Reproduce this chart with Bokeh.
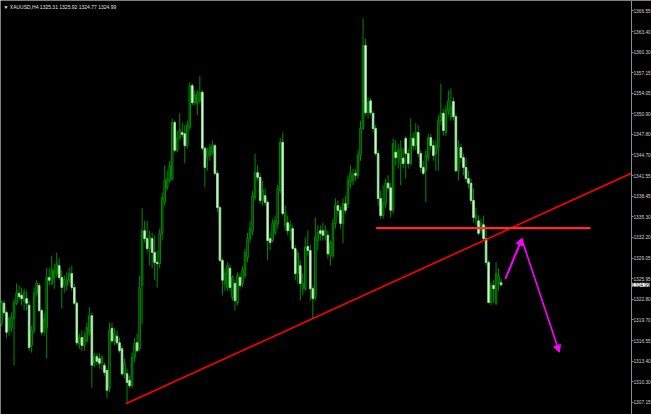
from bokeh.plotting import figure
from bokeh.models import (ColumnDataSource, FixedTicker, PrintfTickFormatter, Range1d,
                          Label, Arrow, NormalHead)
from bokeh.embed import file_html
from bokeh.resources import INLINE

# ---------------- data (XAUUSD, H4) ----------------
opens = [1319.1,1322.2,1320.8,1318.1,1318.5,1319.9,1322.2,1323.7,1323.4,1322.6,
         1322.9,1321.9,1315.8,1318.1,1323.7,1324.9,1321.1,1317.9,1318.5,1326.1,
         1325.2,1326.0,1326.7,1327.9,1326.1,1324.9,1324.9,1325.7,1326.7,1324.6,
         1322.2,1316.1,1317.0,1315.8,1316.5,1317.8,1320.3,1313.1,1314.1,1313.8,
         1313.1,1312.8,1312.0,1309.4,1318.4,1316.5,1317.2,1316.2,1315.3,1311.5,
         1311.5,1310.5,1309.7,1314.0,1316.2,1315.3,1324.9,1333.2,1332.0,1330.5,
         1332.0,1329.9,1328.4,1328.2,1332.8,1337.5,1339.7,1340.8,1341.1,1349.6,
         1345.4,1347.3,1348.1,1347.9,1346.1,1348.9,1355.2,1352.6,1352.5,1352.9,
         1354.2,1345.7,1344.3,1344.6,1345.1,1346.1,1341.9,1336.7,1328.7,1325.2,
         1324.6,1327.5,1323.1,1325.2,1322.3,1326.1,1325.2,1326.4,1329.1,1332.0,
         1333.2,1338.2,1342.0,1341.3,1337.8,1338.5,1337.5,1332.0,1331.7,1332.9,
         1334.3,1339.3,1346.6,1334.0,1334.4,1333.2,1333.5,1330.5,1326.7,1327.9,
         1324.4,1324.4,1330.8,1330.2,1324.4,1323.1,1331.7,1333.2,1333.2,1332.5,
         1332.5,1329.4,1329.4,1334.3,1337.0,1336.3,1334.3,1337.3,1337.3,1340.5,
         1340.8,1341.9,1341.6,1344.6,1348.7,1361.3,1351.1,1352.9,1351.0,1348.7,
         1344.9,1338.1,1335.5,1337.3,1340.4,1339.7,1336.3,1345.1,1344.2,1343.4,
         1344.2,1347.2,1344.9,1343.4,1347.2,1346.1,1348.1,1344.9,1342.8,1342.3,
         1344.3,1347.3,1346.1,1344.9,1345.8,1349.9,1351.0,1348.1,1351.4,1350.4,
         1352.8,1350.5,1342.3,1345.8,1344.3,1342.8,1341.1,1340.4,1337.8,1335.0,
         1334.7,1333.2,1334.1,1332.0,1328.4,1322.3,1324.9,1322.2,1325.2,1325.31]
highs = [1322.6,1322.6,1321.1,1320.3,1320.8,1322.9,1325.2,1324.9,1324.6,1324.4,
         1324.1,1322.6,1318.8,1324.6,1325.7,1325.3,1321.4,1320.8,1327.6,1327.5,
         1329.4,1328.2,1329.9,1329.0,1327.2,1326.4,1326.9,1327.6,1327.9,1325.2,
         1322.6,1317.6,1318.1,1317.8,1319.3,1321.6,1320.8,1314.7,1314.6,1314.6,
         1314.3,1313.2,1312.3,1319.3,1319.3,1318.4,1318.1,1317.0,1315.8,1313.8,
         1312.3,1311.2,1314.7,1316.9,1317.6,1326.4,1336.6,1334.7,1334.7,1333.2,
         1332.9,1332.5,1330.2,1333.5,1339.0,1343.1,1342.3,1343.8,1350.2,1349.9,
         1348.4,1351.0,1349.6,1349.2,1349.9,1355.7,1355.5,1354.5,1354.5,1356.7,
         1354.5,1346.0,1345.8,1346.4,1346.9,1346.4,1342.3,1337.0,1329.0,1327.5,
         1328.4,1328.1,1326.4,1325.7,1326.9,1326.7,1327.8,1330.5,1332.9,1334.7,
         1339.3,1344.9,1343.1,1342.0,1340.8,1339.6,1337.8,1332.9,1335.0,1335.5,
         1340.1,1347.3,1348.1,1337.0,1335.5,1334.7,1334.0,1331.0,1330.2,1328.7,
         1326.7,1332.2,1333.2,1331.0,1324.9,1335.2,1334.0,1334.0,1334.4,1334.0,
         1333.2,1331.7,1335.0,1338.1,1337.8,1337.0,1338.1,1338.5,1341.6,1343.1,
         1342.6,1342.6,1345.4,1349.9,1365.4,1362.3,1353.4,1353.4,1351.4,1349.2,
         1345.4,1339.3,1340.1,1341.1,1341.6,1340.4,1347.2,1346.9,1346.4,1346.9,
         1345.7,1347.6,1345.7,1350.2,1348.1,1349.5,1349.2,1345.4,1343.8,1345.4,
         1347.9,1347.9,1346.9,1346.9,1350.7,1355.5,1351.7,1352.2,1354.5,1354.8,
         1353.4,1351.0,1346.9,1346.4,1344.9,1344.2,1342.3,1341.1,1339.6,1336.7,
         1335.5,1335.0,1335.5,1334.0,1328.7,1325.4,1325.7,1328.4,1327.5,1325.92]
lows = [1318.8,1320.3,1316.9,1317.3,1317.8,1312.8,1321.9,1322.6,1321.9,1321.1,
        1321.1,1315.0,1314.7,1317.6,1323.2,1320.8,1317.3,1317.3,1313.8,1324.9,
        1324.9,1324.4,1326.1,1325.7,1321.4,1323.8,1324.1,1325.2,1324.1,1321.9,
        1315.8,1315.3,1315.0,1315.0,1316.2,1317.3,1309.4,1312.5,1312.8,1312.3,
        1312.0,1311.2,1307.8,1308.7,1316.1,1315.8,1315.8,1314.7,1311.2,1310.8,
        1307.0,1309.3,1309.3,1313.2,1314.7,1315.0,1319.1,1331.4,1329.9,1327.9,
        1327.5,1325.7,1324.6,1327.5,1331.7,1337.0,1339.3,1340.4,1340.8,1345.1,
        1345.1,1346.9,1347.3,1343.4,1345.7,1348.4,1352.2,1352.2,1350.7,1352.5,
        1345.4,1339.8,1342.3,1343.8,1344.6,1341.6,1336.0,1328.4,1323.4,1324.1,
        1324.1,1324.1,1322.6,1321.1,1321.9,1324.4,1324.6,1326.0,1328.4,1331.4,
        1332.5,1337.8,1340.8,1337.3,1337.0,1337.0,1328.7,1330.2,1331.4,1332.5,
        1333.5,1338.8,1335.5,1333.2,1332.5,1331.7,1330.2,1325.7,1325.2,1322.6,
        1323.4,1324.1,1329.4,1322.6,1319.9,1322.6,1330.2,1331.7,1331.7,1331.7,
        1329.0,1327.9,1329.0,1333.5,1335.5,1333.5,1331.3,1335.8,1336.6,1339.6,
        1340.1,1340.8,1341.1,1343.8,1348.4,1350.7,1350.2,1350.7,1348.1,1344.6,
        1337.0,1335.0,1335.0,1336.7,1339.3,1335.2,1335.8,1343.1,1342.6,1340.1,
        1342.6,1341.1,1342.6,1343.1,1345.4,1345.4,1344.3,1342.0,1341.6,1337.5,
        1343.8,1345.4,1343.8,1342.3,1342.3,1349.2,1347.6,1347.6,1350.7,1349.9,
        1349.9,1342.0,1340.8,1343.5,1341.6,1340.5,1339.6,1337.3,1334.4,1334.0,
        1332.5,1332.8,1331.7,1327.9,1322.2,1321.9,1322.3,1321.9,1324.1,1324.77]
closes = [1322.3,1320.8,1317.8,1319.9,1320.0,1322.3,1323.8,1323.2,1322.9,1323.8,
          1322.2,1315.5,1318.1,1323.7,1325.2,1321.1,1317.8,1319.9,1326.1,1325.7,
          1327.2,1327.2,1328.2,1326.1,1324.6,1325.8,1325.7,1326.7,1324.6,1322.2,
          1316.2,1317.0,1315.8,1317.0,1318.5,1320.3,1312.8,1314.1,1313.4,1313.1,
          1314.0,1311.7,1309.0,1318.1,1316.5,1317.6,1316.2,1315.0,1311.5,1313.1,
          1310.2,1309.7,1314.0,1316.1,1315.0,1324.6,1333.2,1332.0,1330.5,1332.2,
          1329.9,1328.4,1328.2,1332.8,1338.2,1340.8,1341.1,1343.1,1349.6,1345.4,
          1347.3,1348.4,1347.8,1346.1,1349.2,1355.2,1352.6,1353.7,1354.0,1354.2,
          1345.7,1342.8,1345.4,1345.8,1346.1,1341.9,1336.7,1328.7,1325.7,1326.7,
          1327.9,1324.6,1326.1,1322.6,1326.4,1324.9,1327.2,1329.9,1332.0,1333.5,
          1338.5,1342.0,1341.3,1337.8,1339.3,1337.5,1331.7,1331.4,1334.4,1334.7,
          1339.6,1346.6,1335.8,1336.0,1333.2,1334.1,1330.5,1326.7,1329.7,1325.2,
          1325.2,1330.7,1330.2,1324.4,1322.9,1332.2,1332.9,1332.8,1332.5,1333.2,
          1329.7,1331.3,1334.3,1337.0,1336.3,1334.3,1337.3,1336.3,1340.8,1341.9,
          1341.7,1341.6,1344.6,1348.7,1361.3,1351.1,1352.6,1351.1,1348.7,1344.9,
          1338.1,1335.5,1337.5,1340.4,1339.7,1336.3,1346.4,1344.3,1345.4,1345.7,
          1343.4,1344.9,1343.4,1347.2,1346.1,1348.1,1344.9,1342.8,1341.9,1344.6,
          1347.3,1346.1,1344.6,1346.1,1349.9,1351.0,1348.4,1351.4,1352.9,1351.9,
          1350.5,1342.3,1345.8,1344.3,1342.8,1341.1,1340.4,1337.8,1335.2,1335.5,
          1332.8,1334.3,1332.0,1328.4,1322.3,1324.9,1324.4,1326.7,1326.4,1324.99]

price_ticks = [1307.15, 1310.30, 1313.40, 1316.55, 1319.70, 1322.80, 1325.95,
               1329.05, 1332.20, 1335.30, 1338.45, 1341.55, 1344.70, 1347.80,
               1350.90, 1354.05, 1357.15, 1360.30, 1363.40, 1366.55]
last_price = 1324.99
last_text = "1324.99"
title_text = "\u25bc XAUUSD,H4  1325.31 1325.92 1324.77 1324.99"

# drawn objects (bar index, price)
trend_x = [49.5, 250.9]
trend_y = [1306.95, 1341.92]
level_x = [149.2, 234.6]
level_y = [1333.58, 1333.58]
arrow1 = [200.7, 1325.90, 207.4, 1332.06]
arrow2 = [207.4, 1331.71, 222.2, 1314.77]

# ---------------- figure ----------------
W, H = 651, 414
X_AXIS = 250.9      # bar index where the price scale sits
X_END = 258.9       # right edge of the window
FS = "4.8px"
idx = list(range(len(closes)))
up = [c >= o for o, c in zip(opens, closes)]

def sub(mask):
    return ColumnDataSource(dict(
        x=[i for i, m in zip(idx, mask) if m],
        top=[max(o, c) for o, c, m in zip(opens, closes, mask) if m],
        bottom=[min(o, c) for o, c, m in zip(opens, closes, mask) if m],
    ))

wick_src = ColumnDataSource(dict(x=idx, h=highs, l=lows))

p = figure(width=W, height=H, output_backend="svg", toolbar_location=None,
           x_axis_location=None, y_axis_location="right",
           x_range=Range1d(-0.4, X_END), y_range=Range1d(1305.33, 1368.11),
           background_fill_color="black", border_fill_color="black",
           min_border_left=0, min_border_top=0, min_border_bottom=0, min_border_right=0,
           outline_line_color=None)
p.grid.visible = False

p.segment(x0="x", y0="l", x1="x", y1="h", source=wick_src, line_color="#008c00", line_width=1)
p.vbar(x="x", top="top", bottom="bottom", width=0.62, source=sub(up),
       fill_color="#001a00", line_color="#008c00", line_width=1)
p.vbar(x="x", top="top", bottom="bottom", width=0.62, source=sub([not u for u in up]),
       fill_color="#ffffff", line_color="#8ee08e", line_width=1)

p.line(trend_x, trend_y, line_color="#ff0000", line_width=1.6)
p.line(level_x, level_y, line_color="#ff2a2a", line_width=2.2)

for a, w in ((arrow1, 2), (arrow2, 1.6)):
    p.add_layout(Arrow(x_start=a[0], y_start=a[1], x_end=a[2], y_end=a[3],
                       line_color="#ff00ff", line_width=w,
                       end=NormalHead(size=7, fill_color="#ff00ff", line_color="#ff00ff")))

ax = p.yaxis[0]
ax.fixed_location = X_AXIS
ax.ticker = FixedTicker(ticks=price_ticks)
ax.formatter = PrintfTickFormatter(format="%.2f")
ax.axis_line_color = "#8c8c8c"
ax.major_tick_line_color = "#8c8c8c"
ax.major_tick_out = 2
ax.major_tick_in = 0
ax.minor_tick_line_color = None
ax.major_label_text_color = "#d0d0d0"
ax.major_label_text_font = "Liberation Sans"
ax.major_label_text_font_size = FS
ax.major_label_standoff = 0

p.add_layout(Label(x=X_AXIS + 0.35, y=last_price, text=last_text,
                   text_font="Liberation Sans", text_font_size=FS, text_color="black",
                   text_baseline="middle", text_align="left",
                   background_fill_color="white", level="overlay"))
p.add_layout(Label(x=3, y=H - 3, x_units="screen", y_units="screen", text=title_text,
                   text_font="Liberation Sans", text_font_size="5px", text_color="#e0e0e0",
                   text_baseline="top"))

open("out.html", "w").write(file_html(p, INLINE))
